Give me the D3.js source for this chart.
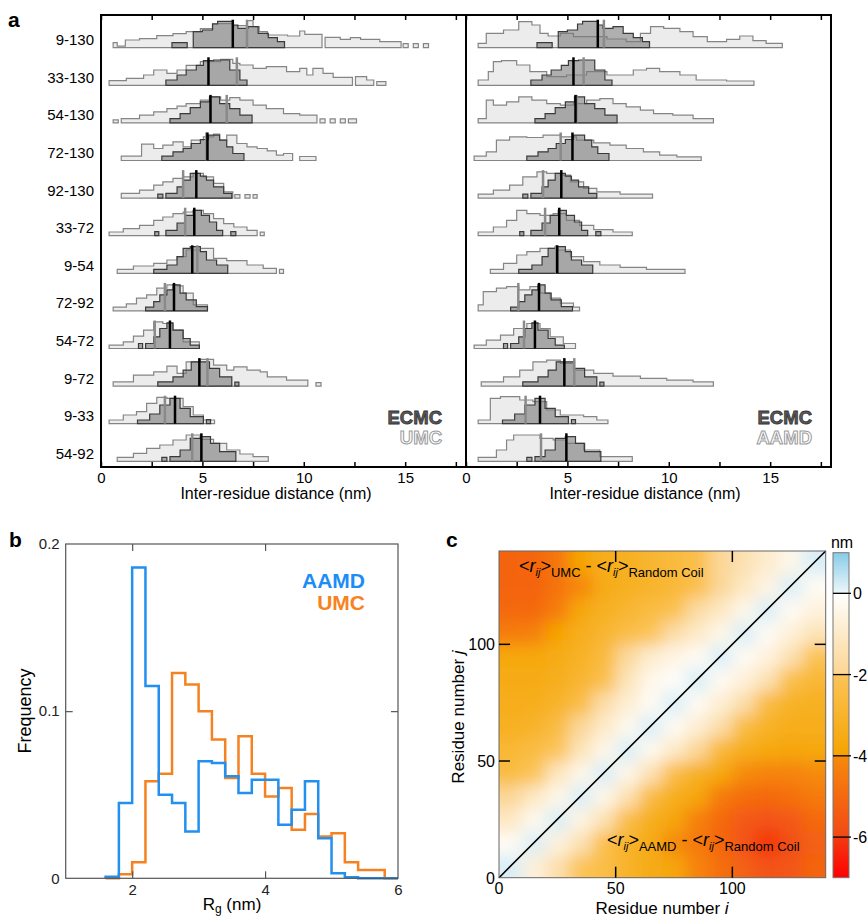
<!DOCTYPE html>
<html><head><meta charset="utf-8">
<script src="https://cdn.jsdelivr.net/npm/d3@7"></script>
<style>body{margin:0;background:#fff} svg{display:block} text{font-family:"Liberation Sans",Arial,sans-serif}</style>
</head><body>
<svg id="fig" width="867" height="917"></svg>
<script>
// ---------------- Panel a data ----------------
const pairLabels = ["9-130","33-130","54-130","72-130","92-130","33-72","9-54","72-92","54-72","9-72","9-33","54-92"];
const distTicks = [0,2.5,5,7.5,10,12.5,15,17.5];
// histogram step breakpoints: [distance nm, frequency a.u.]; 0 closes a segment
const ecmcHist = [
 [[3.5,5],[4.25,0],[4.55,16],[5.0,17.7],[5.5,23.7],[5.75,26.3],[6.5,22.7],[6.75,19.3],[7.25,21],[7.75,14.3],[8.25,10],[8.7,6],[9.05,0]],
 [[3.2,5.3],[3.75,10.3],[4.2,15.3],[4.7,20],[5.05,24.7],[5.55,25.3],[6.35,15.3],[6.85,5.3],[7.2,0]],
 [[3.4,4.3],[3.9,9.3],[4.4,15.3],[4.9,21],[5.35,26],[5.85,19.3],[6.35,14.3],[6.85,7.7],[7.45,0]],
 [[3.0,4.3],[3.55,8.7],[4.05,12],[4.45,17],[4.9,21],[5.3,25.3],[5.85,20.3],[6.2,13.7],[6.5,7],[7.05,0]],
 [[2.8,4],[3.05,0],[3.2,4.7],[3.75,11.3],[4.05,18],[4.4,24.7],[4.9,22],[5.2,18],[5.55,11.3],[6.05,4.7],[6.45,0]],
 [[2.65,4],[2.85,0],[3.2,5.3],[3.75,12.7],[4.15,20.3],[4.55,25.3],[4.95,20.3],[5.35,13.7],[5.7,5.3],[6.0,0],[6.4,4],[6.65,0]],
 [[2.6,4],[3.25,8.3],[3.75,16.7],[4.05,25],[4.4,26.7],[4.9,21.7],[5.2,13.3],[5.7,8.3],[6.25,0]],
 [[2.2,3.7],[2.6,9.3],[2.9,16],[3.25,21],[3.55,26],[3.9,17.7],[4.2,11],[4.7,4.3],[5.25,0]],
 [[1.85,5],[2.05,0],[2.2,5],[2.6,11.7],[2.9,20],[3.25,25.7],[3.55,18.3],[4.05,10],[4.4,3.3],[4.85,0]],
 [[2.8,4.3],[3.55,9.3],[4.05,16],[4.45,24.3],[5.35,17.7],[5.85,9.3],[6.45,0],[6.6,4],[6.8,0]],
 [[1.8,3.7],[2.4,9.7],[2.9,18.7],[3.4,25.3],[3.9,15.3],[4.4,7],[5.05,0],[5.2,4],[5.4,0]],
 [[3.0,4],[3.25,0],[3.4,4.7],[3.9,11.3],[4.4,23],[4.9,24.7],[5.4,18],[5.85,9.7],[6.65,0]]
];
const umcHist = [
 [[0.6,5],[0.8,1.5],[1.2,7.7],[1.9,9],[2.75,12],[3.55,14],[4.2,16],[4.9,19],[5.5,24],[6.5,22],[7.2,27],[7.5,21],[7.8,16],[8.2,12.7],[9.2,11.7],[9.8,16.7],[10.05,13.3],[10.9,0],[11.05,10.3],[11.8,8.3],[12.3,10],[12.8,8.3],[13.75,6],[14.8,0],[14.9,4],[15.15,0],[15.4,4],[15.65,0],[15.9,4],[16.15,0]],
 [[0.4,4.7],[1.25,7],[2.1,10.3],[2.6,15.3],[3.25,12],[3.75,15.3],[4.2,20],[4.9,23.7],[5.9,26],[6.5,22],[6.85,20.3],[7.5,17],[8.15,18.7],[9.15,13.7],[9.8,17],[10.15,10.3],[10.45,17],[10.95,12],[11.45,8],[12.4,0],[12.55,8.7],[13.1,5.3],[13.45,0],[13.6,3.7],[14.05,0]],
 [[0.6,3],[0.85,0],[1.0,4.3],[1.9,7.7],[2.6,11],[3.25,14.3],[3.75,16.7],[4.2,19.3],[4.9,22.7],[5.4,26],[5.9,22.7],[6.35,25.3],[6.85,22.7],[7.5,17.7],[8.15,14.3],[9.0,9.3],[9.8,7.7],[10.65,0],[10.8,4],[11.05,0],[11.3,4],[11.55,0],[11.8,4],[12.05,0],[12.2,4],[12.6,0]],
 [[1.0,4.3],[2.0,16.3],[2.6,12],[3.05,15.3],[3.55,18.7],[4.05,13.7],[4.45,20.3],[5.05,23.7],[5.55,26.3],[5.85,20.3],[6.2,25.3],[6.7,17],[7.2,13.7],[7.7,12],[8.2,9.7],[8.65,5.3],[9.0,7],[9.45,0],[9.8,4],[10.6,0]],
 [[1.0,4.7],[1.9,8],[2.6,13],[3.05,16.3],[3.55,19.7],[4.05,21.3],[4.55,24.7],[5.05,21.3],[5.55,14.7],[6.05,6.3],[6.5,0],[6.6,3.5],[6.85,0],[7.1,3.5],[7.35,0],[7.5,3.5],[7.7,0]],
 [[0.4,3.7],[1.1,7],[1.9,10.3],[2.6,15.3],[3.05,18.7],[3.55,22],[4.05,23.7],[4.55,25.3],[5.05,22],[5.55,17],[6.05,12],[6.55,8.7],[7.2,5.3],[7.7,0],[7.85,3.5],[8.05,0]],
 [[0.8,4],[1.6,7.3],[2.6,10],[3.25,13.3],[3.75,16.7],[4.2,23.3],[4.9,25],[5.55,15],[6.2,12.7],[7.2,8.3],[8.0,5],[8.65,0],[8.8,4],[9.0,0]],
 [[0.6,3.7],[1.25,7],[1.75,12.7],[2.25,16],[2.75,22.7],[3.25,26],[3.75,25],[4.05,17.7],[4.55,6],[5.25,0]],
 [[0.4,3.3],[1.1,6.7],[1.6,12.3],[2.1,18.3],[2.6,26.7],[3.05,25],[3.55,18.3],[4.05,6.7],[4.85,0]],
 [[0.6,4.3],[1.6,11],[2.6,14.3],[3.25,20],[3.75,12.7],[4.2,24.3],[4.9,26.7],[5.55,21],[6.2,16],[6.55,19.3],[7.2,16],[7.85,14.3],[8.2,9.3],[9.15,6],[10.2,0],[10.6,3.5],[10.85,0]],
 [[0.4,3.7],[1.1,8.7],[1.75,12],[2.25,20.3],[2.75,26.3],[3.25,25.3],[4.05,17],[4.55,8.7],[5.05,3.7],[5.6,0]],
 [[0.8,4],[1.6,8],[2.25,13],[2.9,16.3],[3.55,21.3],[4.2,26.3],[4.9,22],[5.55,18],[6.2,11.3],[6.85,7.3],[7.5,4.7],[8.25,0]]
];
const aamdHist = [
 [[0.6,4.3],[1.0,14.3],[1.85,17.7],[2.6,26],[3.25,22.7],[3.65,14.3],[4.05,11.7],[4.65,14.3],[5.3,11],[6.95,8.7],[7.9,6],[8.6,14.3],[9.1,21],[9.75,19.3],[10.55,16],[11.2,11],[11.9,6],[12.85,8.3],[13.5,11.7],[14.15,7],[14.8,4.3],[15.6,0]],
 [[0.6,5.3],[1.1,13.7],[1.35,23.7],[1.75,24.7],[2.5,20.3],[3.15,13.7],[3.98,8.7],[4.96,10.3],[5.95,13.7],[6.95,10.3],[8.25,15.3],[8.9,17],[9.55,13.7],[10.55,10.3],[11.35,5.3],[12.85,4.3],[14.2,0]],
 [[0.6,4.3],[1.0,22.7],[1.35,17.7],[2.0,21],[2.6,26],[3.25,22.7],[3.98,19.3],[4.65,17.7],[5.3,19.3],[5.95,22.7],[6.6,24.3],[7.25,19.3],[7.9,16],[8.6,12.7],[9.25,9.3],[10.2,7.7],[11.2,4.3],[12.2,0]],
 [[0.4,4.3],[1.0,8.7],[1.5,20.3],[2.15,23.7],[3.0,23],[3.8,25.3],[4.65,23.7],[5.45,20.3],[6.3,17.7],[7.1,15.3],[7.9,12],[8.75,8.7],[9.55,5.3],[10.4,3.7],[11.6,0]],
 [[0.6,4],[1.35,8],[2.15,13],[2.8,21.3],[3.5,26.3],[3.98,24.7],[4.65,23],[5.15,16.3],[5.8,9.7],[6.45,6.3],[7.6,4],[9.2,0]],
 [[0.6,3.7],[1.35,8.7],[2.0,15.3],[2.5,25.3],[3.0,22],[3.65,20.3],[4.3,22],[4.95,15.3],[5.6,10.3],[6.3,6],[7.25,3.7],[8.2,0]],
 [[1.2,4],[1.85,10],[2.5,18.3],[3.0,21.7],[3.65,25],[4.45,23.3],[5.15,16.7],[5.8,11.7],[6.6,8.3],[7.6,6],[8.9,4],[10.8,0]],
 [[0.6,6],[0.85,19.3],[1.5,22.7],[2.0,24.3],[2.6,21],[3.15,24.3],[3.65,17.7],[4.15,12.7],[4.65,7.7],[5.3,3.7],[5.6,0]],
 [[0.4,3.3],[1.0,8.3],[1.7,13.3],[2.35,20],[3.0,25],[3.65,20],[4.15,11.7],[4.8,5],[5.4,0]],
 [[0.75,4.3],[1.85,9.3],[2.65,16],[3.3,24.3],[3.98,26],[4.65,22.7],[5.3,16],[6.3,12.7],[7.25,10],[8.6,7.7],[9.9,6],[11.2,4.3],[12.2,0]],
 [[0.6,3.7],[1.2,25.3],[1.7,27],[2.65,23.7],[3.3,22],[3.98,13.7],[4.65,8.7],[5.8,7],[6.45,3.7],[7.0,0]],
 [[0.6,4],[1.5,11.3],[2.0,21.3],[2.35,26.3],[3.65,23],[4.3,21.3],[4.95,18],[5.8,11.3],[6.6,4.7],[8.2,0]]
];
const ecmcMean = [6.5,5.3,5.4,5.25,4.7,4.6,4.5,3.6,3.4,4.85,3.65,4.95];
const umcMean  = [7.2,6.7,6.2,5.2,4.05,4.15,4.75,3.15,2.65,5.25,3.15,4.5];
const aamdMean = [6.8,5.8,5.45,4.67,3.8,3.9,4.45,2.58,2.86,5.34,2.94,3.7];

// ---------------- Panel b data ----------------
const rgBinStart = [1.6,1.8,2.0,2.2,2.4,2.6,2.8,3.0,3.2,3.4,3.6,3.8,4.0,4.2,4.4,4.6,4.8,5.0,5.2,5.4,5.6,5.8];
const rgAAMD = [0.001,0.045,0.186,0.115,0.050,0.045,0.028,0.070,0.069,0.061,0.051,0.059,0.059,0.032,0.041,0.058,0.024,0.003,0.0006,0,0,0];
const rgUMC  = [0,0.0024,0.0096,0.058,0.0625,0.1228,0.116,0.100,0.083,0.060,0.085,0.0625,0.049,0.054,0.029,0.0385,0.025,0.027,0.0096,0.005,0.005,0];
const rgTicks = [2,4,6];
const freqTicks = [0,0.1,0.2];

// ---------------- Panel c data ----------------
const residueCenters = [5,15,25,35,45,55,65,75,85,95,105,115,125,135];
// rows: residue j (bottom -> top), columns: residue i; j>i: UMC-RC, j<i: AAMD-RC (nm)
const diffMap = [
 [ 0.2,-0.7,-1.5,-2.0,-2.4,-3.0,-3.5,-3.8,-4.2,-4.8,-5.3,-5.7,-5.6,-5.2],
 [-0.2, 0.2,-0.6,-1.4,-2.3,-3.0,-3.5,-4.0,-4.5,-5.1,-5.7,-6.1,-5.8,-5.3],
 [-1.1,-0.3, 0.2,-0.5,-1.4,-2.4,-3.3,-3.8,-4.3,-5.0,-5.5,-5.7,-5.5,-5.0],
 [-1.9,-1.1,-0.4, 0.2,-0.4,-1.4,-2.5,-3.3,-3.8,-4.5,-4.9,-5.0,-4.8,-4.5],
 [-2.5,-2.0,-1.2,-0.4, 0.2,-0.4,-1.4,-2.4,-3.2,-3.6,-4.0,-4.2,-4.2,-4.0],
 [-2.8,-2.5,-2.0,-1.3,-0.4, 0.2,-0.3,-1.0,-1.9,-2.8,-3.3,-3.6,-3.8,-3.6],
 [-3.2,-3.0,-2.5,-1.9,-1.0,-0.3, 0.2,-0.2,-0.8,-1.6,-2.5,-3.1,-3.4,-3.4],
 [-3.4,-3.3,-3.0,-2.4,-1.6,-0.8,-0.2, 0.2,-0.2,-0.8,-1.6,-2.5,-3.1,-3.2],
 [-3.5,-3.5,-3.3,-2.9,-2.3,-1.3,-0.4,-0.1, 0.2,-0.2,-0.7,-1.4,-2.3,-2.8],
 [-3.7,-3.7,-3.5,-3.1,-2.6,-1.8,-0.9,-0.5,-0.2, 0.2,-0.2,-0.6,-1.4,-2.1],
 [-4.4,-4.3,-3.9,-3.4,-2.9,-2.4,-2.0,-1.6,-1.0,-0.4, 0.2,-0.2,-0.7,-1.3],
 [-5.0,-5.0,-4.4,-3.7,-3.2,-2.9,-2.5,-2.2,-1.7,-1.1,-0.4, 0.2,-0.2,-0.6],
 [-5.2,-5.2,-4.7,-4.1,-3.5,-3.2,-3.0,-2.7,-2.3,-1.9,-1.1,-0.5, 0.2,-0.2],
 [-5.2,-5.1,-4.6,-3.9,-3.4,-3.2,-2.9,-2.6,-2.3,-1.9,-1.4,-0.9,-0.4, 0.2]
];
const residueTicks = [0,50,100];
const cbarTicks = [0,-2,-4,-6];
const cbarStops = [1,0.001,0,-1.99,-2,-3.99,-4,-5.99,-6,-7];
const cbarColors = ["#86cce8","#eef7fb","#ffffff","#fbd592","#fbc458","#f5a300","#f68a0c","#f24915","#f33b12","#ff0000"];

// =====================================================
const svg = d3.select("#fig");
const F = '"Liberation Sans",Arial,sans-serif';

// ---------------- Panel a ----------------
const yTopA = 15, yBotA = 467;
const xL = d3.scaleLinear().domain([0,18]).range([101,466]);
const xR = d3.scaleLinear().domain([0,18]).range([466,831]);
const yRow = d3.scalePoint().domain(pairLabels).range([47.7,461.3]);
const hS = d3.scaleLinear().domain([0,30]).range([0,30]);

function pieces(bp){
  const out=[]; let cur=null;
  for(const [x,h] of bp){
    if(h>0){ if(!cur) cur=[]; cur.push([x,h]); }
    else if(cur){ cur.push([x,0]); out.push(cur); cur=null; }
  }
  if(cur) out.push(cur);
  return out;
}
const gA = svg.append("g");
function drawPanel(xs, lightHist, lightMean){
  pairLabels.forEach((lab,k)=>{
    const base = yRow(lab);
    const area = d3.area().curve(d3.curveStepAfter).x(d=>xs(d[0])).y0(base).y1(d=>base-hS(d[1]));
    const g = gA.append("g");
    pieces(lightHist[k]).forEach(p=>g.append("path").attr("d",area(p))
      .attr("fill","#ececec").attr("stroke","#858585").attr("stroke-width",1.2));
    pieces(ecmcHist[k]).forEach(p=>g.append("path").attr("d",area(p))
      .attr("fill","#7a7a7a").attr("fill-opacity",0.6).attr("stroke","#3a3a3a").attr("stroke-width",1.2));
    g.append("line").attr("x1",xs(lightMean[k])).attr("x2",xs(lightMean[k]))
      .attr("y1",base).attr("y2",base-hS(28)).attr("stroke","#8a8a8a").attr("stroke-width",2.5);
    g.append("line").attr("x1",xs(ecmcMean[k])).attr("x2",xs(ecmcMean[k]))
      .attr("y1",base).attr("y2",base-hS(28)).attr("stroke","#000").attr("stroke-width",2.5);
  });
  const ab = gA.append("g").attr("transform",`translate(0,${yBotA})`)
    .call(d3.axisBottom(xs).tickValues(distTicks).tickSize(-5).tickPadding(5)
      .tickFormat(d=> d%5===0 ? d : ""));
  ab.select(".domain").remove();
  ab.selectAll("line").attr("stroke","#000").attr("stroke-width",1.5);
  ab.selectAll("text").attr("font-family",F).attr("font-size",15).attr("fill","#000");
  const at = gA.append("g").attr("transform",`translate(0,${yTopA})`)
    .call(d3.axisTop(xs).tickValues(distTicks).tickSize(-5).tickFormat(""));
  at.select(".domain").remove();
  at.selectAll("line").attr("stroke","#000").attr("stroke-width",1.5);
}
drawPanel(xL, umcHist, umcMean);
drawPanel(xR, aamdHist, aamdMean);
gA.append("rect").attr("x",101).attr("y",yTopA).attr("width",730).attr("height",yBotA-yTopA)
  .attr("fill","none").attr("stroke","#000").attr("stroke-width",2);
gA.append("line").attr("x1",466).attr("x2",466).attr("y1",yTopA).attr("y2",yBotA).attr("stroke","#000").attr("stroke-width",2);
pairLabels.forEach(lab=>gA.append("text").attr("x",94).attr("y",yRow(lab)-2.5)
  .attr("text-anchor","end").attr("font-family",F).attr("font-size",15).text(lab));
gA.append("text").attr("x",276).attr("y",499).attr("text-anchor","middle").attr("font-family",F).attr("font-size",16).text("Inter-residue distance (nm)");
gA.append("text").attr("x",645).attr("y",499).attr("text-anchor","middle").attr("font-family",F).attr("font-size",16).text("Inter-residue distance (nm)");
function legendA(xr, second){
  gA.append("text").attr("x",xr).attr("y",424).attr("text-anchor","end").attr("font-family",F)
    .attr("font-weight","bold").attr("font-size",18.5).attr("fill","#5a5a5a").attr("stroke","#333").attr("stroke-width",0.8).text("ECMC");
  gA.append("text").attr("x",xr).attr("y",444).attr("text-anchor","end").attr("font-family",F)
    .attr("font-weight","bold").attr("font-size",18.5).attr("fill","#fff").attr("stroke","#9a9a9a").attr("stroke-width",1).text(second);
}
legendA(442,"UMC");
legendA(812,"AAMD");
svg.append("text").attr("x",8).attr("y",27).attr("font-family",F).attr("font-weight","bold").attr("font-size",21).text("a");

// ---------------- Panel b ----------------
const gB = svg.append("g");
const xB = d3.scaleLinear().domain([1,6]).range([65.7,398]);
const yB = d3.scaleLinear().domain([0,0.2]).range([878.3,544]);
const stepLine = d3.line().curve(d3.curveStepAfter).x(d=>xB(d[0])).y(d=>yB(d[1]));
function rgPts(vals){
  const pts=[[rgBinStart[0],0]];
  rgBinStart.forEach((x,i)=>pts.push([x,vals[i]]));
  pts.push([rgBinStart[rgBinStart.length-1]+0.2,0]);
  return pts;
}
gB.append("path").attr("d",stepLine(rgPts(rgUMC))).attr("fill","none").attr("stroke","#f58220").attr("stroke-width",2.5);
gB.append("path").attr("d",stepLine(rgPts(rgAAMD))).attr("fill","none").attr("stroke","#2290f0").attr("stroke-width",2.5);
gB.append("rect").attr("x",65.7).attr("y",544).attr("width",398-65.7).attr("height",878.3-544)
  .attr("fill","none").attr("stroke","#555").attr("stroke-width",1.2);
[[d3.axisBottom(xB),`translate(0,878.3)`,rgTicks,"x"],[d3.axisTop(xB),`translate(0,544)`,rgTicks,null],
 [d3.axisLeft(yB),`translate(65.7,0)`,freqTicks,"y"],[d3.axisRight(yB),`translate(398,0)`,freqTicks,null]]
.forEach(([ax,tr,tv,lab])=>{
  const g = gB.append("g").attr("transform",tr).call(ax.tickValues(tv).tickSize(-7).tickPadding(6)
     .tickFormat(lab ? (lab==="y"? (d=>d===0?"0":d3.format(".1f")(d)) : d3.format("d")) : ""));
  g.select(".domain").remove();
  g.selectAll("line").attr("stroke","#555").attr("stroke-width",1.2)
    .filter(d=> d===6 || d===0 || d===0.2).remove();
  g.selectAll("text").attr("font-family",F).attr("font-size",15).attr("fill","#222");
});
gB.append("text").attr("transform","translate(31,711) rotate(-90)").attr("text-anchor","middle")
  .attr("font-family",F).attr("font-size",18).text("Frequency");
const rgLab = gB.append("text").attr("x",232).attr("y",910).attr("text-anchor","middle").attr("font-family",F).attr("font-size",17);
rgLab.append("tspan").text("R");
rgLab.append("tspan").attr("font-size",12).attr("dy",3).text("g");
rgLab.append("tspan").attr("dy",-3).text(" (nm)");
gB.append("text").attr("x",365).attr("y",588).attr("text-anchor","end").attr("font-family",F).attr("font-weight","bold").attr("font-size",21).attr("fill","#1e8cf5").text("AAMD");
gB.append("text").attr("x",365).attr("y",610).attr("text-anchor","end").attr("font-family",F).attr("font-weight","bold").attr("font-size",21).attr("fill","#f7821e").text("UMC");
svg.append("text").attr("x",9).attr("y",547).attr("font-family",F).attr("font-weight","bold").attr("font-size",21).text("b");

// ---------------- Panel c ----------------
const gC = svg.append("g");
const xC = d3.scaleLinear().domain([0,140]).range([499,825.7]);
const yC = d3.scaleLinear().domain([0,140]).range([877.7,551]);
const color = d3.scaleLinear().domain(cbarStops).range(cbarColors).clamp(true);
const defs = svg.append("defs");
defs.append("clipPath").attr("id","clipC").append("rect")
  .attr("x",xC(0)).attr("y",yC(140)).attr("width",xC(140)-xC(0)).attr("height",yC(0)-yC(140));
defs.append("filter").attr("id","blurC").attr("filterUnits","userSpaceOnUse")
  .attr("x",380).attr("y",430).attr("width",570).attr("height",570)
  .append("feGaussianBlur").attr("stdDeviation",8);
const heat = gC.append("g").attr("clip-path","url(#clipC)").append("g").attr("filter","url(#blurC)");
const ext = 4; // pad edge cells outward so the blur does not fade at the frame
diffMap.forEach((row,r)=>row.forEach((v,c)=>{
  const i0 = residueCenters[c]-5, i1 = residueCenters[c]+5;
  const j0 = residueCenters[r]-5, j1 = residueCenters[r]+5;
  const a0 = c===0 ? i0-ext*10 : i0, a1 = c===13 ? i1+ext*10 : i1;
  const b0 = r===0 ? j0-ext*10 : j0, b1 = r===13 ? j1+ext*10 : j1;
  heat.append("rect").attr("x",xC(a0)).attr("y",yC(b1)).attr("width",xC(a1)-xC(a0)+0.6)
    .attr("height",yC(b0)-yC(b1)+0.6).attr("fill",color(v));
}));
gC.append("line").attr("x1",xC(0)).attr("y1",yC(0)).attr("x2",xC(140)).attr("y2",yC(140))
  .attr("stroke","#000").attr("stroke-width",1.6);
gC.append("rect").attr("x",xC(0)).attr("y",yC(140)).attr("width",xC(140)-xC(0)).attr("height",yC(0)-yC(140))
  .attr("fill","none").attr("stroke","#666").attr("stroke-width",1);
const tk = [50,100];
tk.forEach(t=>{
  gC.append("line").attr("x1",xC(t)).attr("x2",xC(t)).attr("y1",yC(0)).attr("y2",yC(0)-11).attr("stroke","#000").attr("stroke-width",1.5);
  gC.append("line").attr("x1",xC(t)).attr("x2",xC(t)).attr("y1",yC(140)).attr("y2",yC(140)+11).attr("stroke","#000").attr("stroke-width",1.5);
  gC.append("line").attr("y1",yC(t)).attr("y2",yC(t)).attr("x1",xC(0)).attr("x2",xC(0)+11).attr("stroke","#000").attr("stroke-width",1.5);
  gC.append("line").attr("y1",yC(t)).attr("y2",yC(t)).attr("x1",xC(140)).attr("x2",xC(140)-11).attr("stroke","#000").attr("stroke-width",1.5);
});
residueTicks.forEach(t=>{
  gC.append("text").attr("x",xC(t)).attr("y",894).attr("text-anchor","middle").attr("font-family",F).attr("font-size",16).text(t);
  gC.append("text").attr("x",495).attr("y",yC(t)+6).attr("text-anchor","end").attr("font-family",F).attr("font-size",16).text(t);
});
const xt = gC.append("text").attr("x",662).attr("y",914).attr("text-anchor","middle").attr("font-family",F).attr("font-size",17);
xt.append("tspan").text("Residue number ");
xt.append("tspan").attr("font-style","italic").text("i");
const yt = gC.append("text").attr("transform","translate(464,717) rotate(-90)").attr("text-anchor","middle").attr("font-family",F).attr("font-size",17);
yt.append("tspan").text("Residue number ");
yt.append("tspan").attr("font-style","italic").text("j");
function rijLabel(x,y,sub){
  const t = gC.append("text").attr("x",x).attr("y",y).attr("font-family",F).attr("font-size",18);
  t.append("tspan").text("<");
  t.append("tspan").attr("font-style","italic").text("r");
  t.append("tspan").attr("font-style","italic").attr("font-size",11).attr("dy",4).text("ij");
  t.append("tspan").attr("dy",-4).text(">");
  t.append("tspan").attr("font-size",13).attr("dy",5).text(sub);
  t.append("tspan").attr("dy",-5).text(" - <");
  t.append("tspan").attr("font-style","italic").text("r");
  t.append("tspan").attr("font-style","italic").attr("font-size",11).attr("dy",4).text("ij");
  t.append("tspan").attr("dy",-4).text(">");
  t.append("tspan").attr("font-size",13).attr("dy",5).text("Random Coil");
}
rijLabel(519,572,"UMC");
rijLabel(607,846,"AAMD");
// colour bar
const yCb = d3.scaleLinear().domain([1,-7]).range([552.7,877.7]);
const grad = defs.append("linearGradient").attr("id","cbGrad").attr("x1",0).attr("x2",0).attr("y1",0).attr("y2",1);
cbarStops.forEach((s,i)=>grad.append("stop").attr("offset",(yCb(s)-552.7)/325).attr("stop-color",cbarColors[i]));
gC.append("rect").attr("x",833).attr("y",552.7).attr("width",16).attr("height",325)
  .attr("fill","url(#cbGrad)").attr("stroke","#777").attr("stroke-width",1);
cbarTicks.forEach(t=>{
  gC.append("line").attr("x1",833).attr("x2",851).attr("y1",yCb(t)).attr("y2",yCb(t)).attr("stroke","#000").attr("stroke-width",1.3);
  gC.append("text").attr("x",853).attr("y",yCb(t)+6).attr("font-family",F).attr("font-size",16).text(t);
});
gC.append("text").attr("x",842).attr("y",548).attr("text-anchor","middle").attr("font-family",F).attr("font-size",16).text("nm");
svg.append("text").attr("x",446).attr("y",547).attr("font-family",F).attr("font-weight","bold").attr("font-size",21).text("c");
</script>
</body></html>
